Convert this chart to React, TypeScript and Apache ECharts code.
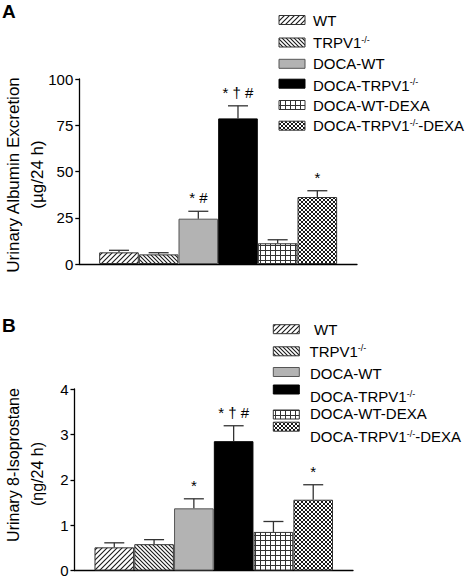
import React, { useEffect, useRef } from 'react';
import * as echarts from 'echarts';

const groups = ['WT', 'TRPV1-/-', 'DOCA-WT', 'DOCA-TRPV1-/-', 'DOCA-WT-DEXA', 'DOCA-TRPV1-/--DEXA'];
const albuminMean = [6.3, 5.2, 24.5, 78.7, 11.2, 36.2];
const albuminSem = [1.1, 0.9, 4.0, 6.8, 1.9, 3.4];
const albuminSig = ['', '', '* #', '* † #', '', '*'];
const isoMean = [0.51, 0.58, 1.37, 2.85, 0.85, 1.56];
const isoSem = [0.1, 0.1, 0.21, 0.34, 0.23, 0.33];
const isoSig = ['', '', '*', '* † #', '', '*'];
const albuminTicks = { min: 0, max: 100, interval: 25 };
const isoTicks = { min: 0, max: 4, interval: 1 };

const FONT = '"Liberation Sans", Arial, Helvetica, sans-serif';

function tile(kind: string): any {
  const c = document.createElement('canvas');
  const s = kind === 'wt' ? 5 : kind === 'ko' ? 4 : kind === 'grid' ? 5 : 4;
  c.width = s;
  c.height = s;
  const g = c.getContext('2d') as CanvasRenderingContext2D;
  g.fillStyle = '#fff';
  g.fillRect(0, 0, s, s);
  g.strokeStyle = '#1a1a1a';
  g.fillStyle = '#1a1a1a';
  g.lineWidth = 1.1;
  if (kind === 'wt') {
    g.beginPath();
    g.moveTo(-1, s + 1); g.lineTo(s + 1, -1);
    g.moveTo(-1, 1); g.lineTo(1, -1);
    g.moveTo(s - 1, s + 1); g.lineTo(s + 1, s - 1);
    g.stroke();
  } else if (kind === 'ko') {
    g.beginPath();
    g.moveTo(-1, -1); g.lineTo(s + 1, s + 1);
    g.moveTo(s - 1, -1); g.lineTo(s + 1, 1);
    g.moveTo(-1, s - 1); g.lineTo(1, s + 1);
    g.stroke();
  } else if (kind === 'grid') {
    g.fillStyle = '#333';
    g.fillRect(0, 0, s, 1);
    g.fillRect(0, 0, 1, s);
  } else {
    g.lineWidth = 1;
    g.beginPath();
    g.moveTo(-1, -1); g.lineTo(s + 1, s + 1);
    g.moveTo(s + 1, -1); g.lineTo(-1, s + 1);
    g.moveTo(s - 1, -1); g.lineTo(s + 1, 1);
    g.moveTo(-1, s - 1); g.lineTo(1, s + 1);
    g.moveTo(1, -1); g.lineTo(-1, 1);
    g.moveTo(s + 1, s - 1); g.lineTo(s - 1, s + 1);
    g.stroke();
  }
  return { image: c, repeat: 'repeat' };
}

export default function App() {
  const ref = useRef<HTMLDivElement>(null);
  useEffect(() => {
    if (!ref.current) return;
    const chart = echarts.init(ref.current, undefined, { renderer: 'svg' });
    const fills = [tile('wt'), tile('ko'), '#b3b3b3', '#000000', tile('grid'), tile('cross')];
    const borders = ['#333', '#333', '#555', '#000', '#333', '#333'];

    const legendLabels = ['WT', 'TRPV1{s|-/-}', 'DOCA-WT', 'DOCA-TRPV1{s|-/-}', 'DOCA-WT-DEXA', 'DOCA-TRPV1{s|-/-}-DEXA'];
    const rich = { s: { fontSize: 9, verticalAlign: 'top', fontFamily: FONT, fill: '#000' } };

    const legend = (swX: number, swYs: number[], txX: number[], txYs: number[]) =>
      groups.map((_, i) => ({
        type: 'group',
        children: [
          {
            type: 'rect',
            shape: { x: swX, y: swYs[i] - 4.5, width: 26, height: 9 },
            style: { fill: fills[i], stroke: borders[i], lineWidth: 1 },
          },
          {
            type: 'text',
            x: txX[i],
            y: txYs[i],
            style: {
              text: legendLabels[i],
              fontSize: 15,
              fontFamily: FONT,
              fill: '#000',
              verticalAlign: 'middle',
              align: 'left',
              rich,
            },
          },
        ],
      }));

    const barData = (mean: number[]) =>
      mean.map((v, i) => ({
        value: [i, v],
        itemStyle: { color: fills[i], borderColor: borders[i], borderWidth: 1 },
      }));

    const errSeries = (mean: number[], sem: number[], sig: string[], idx: number) => ({
      type: 'custom',
      xAxisIndex: idx,
      yAxisIndex: idx,
      encode: { x: 0, y: 1 },
      data: mean.map((v, i) => [i, v, sem[i]]),
      renderItem: (params: any, api: any) => {
        const x = api.value(0);
        const m = api.value(1);
        const e = api.value(2);
        const top = api.coord([x, m + e]);
        const base = api.coord([x, m]);
        const ls = { stroke: '#333', lineWidth: 1.3 };
        const children: any[] = [
          { type: 'line', shape: { x1: top[0], y1: base[1], x2: top[0], y2: top[1] }, style: ls },
          { type: 'line', shape: { x1: top[0] - 10, y1: top[1], x2: top[0] + 10, y2: top[1] }, style: ls },
        ];
        const label = sig[params.dataIndex];
        if (label) {
          children.push({
            type: 'text',
            x: top[0],
            y: top[1] - 6,
            style: {
              text: label,
              fontSize: 15,
              fontFamily: FONT,
              fill: '#000',
              align: 'center',
              verticalAlign: 'bottom',
            },
          });
        }
        return { type: 'group', children };
      },
      z: 5,
    });

    const yAxis = (gi: number, t: { min: number; max: number; interval: number }) => ({
      gridIndex: gi,
      type: 'value',
      min: t.min,
      max: t.max,
      interval: t.interval,
      axisLine: { show: true, onZero: false, lineStyle: { color: '#000', width: 1.3 } },
      axisTick: { show: true, length: 4, lineStyle: { color: '#000', width: 1.3 } },
      axisLabel: { fontSize: 15, color: '#000', margin: 6, fontFamily: FONT },
      splitLine: { show: false },
    });
    const xAxis = (gi: number) => ({
      gridIndex: gi,
      type: 'value',
      min: -1,
      max: 6,
      axisLine: { show: true, onZero: false, lineStyle: { color: '#000', width: 1.3 } },
      axisTick: { show: false },
      axisLabel: { show: false },
      splitLine: { show: false },
    });

    const rotTitle = (text: string, x: number, y: number, size: number) => ({
      type: 'text',
      x,
      y,
      rotation: Math.PI / 2,
      style: { text, fontSize: size, fontFamily: FONT, fill: '#000', align: 'center', verticalAlign: 'middle' },
    });

    chart.setOption({
      animation: false,
      backgroundColor: '#fff',
      grid: [
        { left: 79.3, top: 79, width: 277.7, height: 185 },
        { left: 74.5, top: 389, width: 278.5, height: 182.7 },
      ],
      xAxis: [xAxis(0), xAxis(1)],
      yAxis: [yAxis(0, albuminTicks), yAxis(1, isoTicks)],
      series: [
        { type: 'bar', xAxisIndex: 0, yAxisIndex: 0, barWidth: 39.6, data: barData(albuminMean) },
        errSeries(albuminMean, albuminSem, albuminSig, 0),
        { type: 'bar', xAxisIndex: 1, yAxisIndex: 1, barWidth: 39.6, data: barData(isoMean) },
        errSeries(isoMean, isoSem, isoSig, 1),
      ],
      graphic: [
        { type: 'text', x: 2, y: 11.5, style: { text: 'A', fontSize: 19, fontWeight: 'bold', fontFamily: FONT, fill: '#000', verticalAlign: 'middle' } },
        { type: 'text', x: 2, y: 325.5, style: { text: 'B', fontSize: 19, fontWeight: 'bold', fontFamily: FONT, fill: '#000', verticalAlign: 'middle' } },
        rotTitle('Urinary Albumin Excretion', 13, 175, 17),
        rotTitle('(µg/24 h)', 37, 174.5, 17),
        rotTitle('Urinary 8-Isoprostane', 13, 465, 16),
        rotTitle('(ηg/24 h)', 37, 474, 16),
        ...legend(279, [20, 42.5, 63.8, 83.7, 105, 125.7], [313, 313, 313, 313, 313, 313], [20, 42.5, 63.8, 85, 105, 125.7]),
        ...legend(273.3, [329.2, 351.3, 372, 389.5, 414.5, 426.7], [314, 309.5, 310, 310, 310, 310], [329, 351, 373, 396.5, 413, 436.7]),
      ],
    });
    return () => chart.dispose();
  }, []);
  return <div ref={ref} style={{ position: 'fixed', left: 0, top: 0, width: 470, height: 578 }} />;
}
